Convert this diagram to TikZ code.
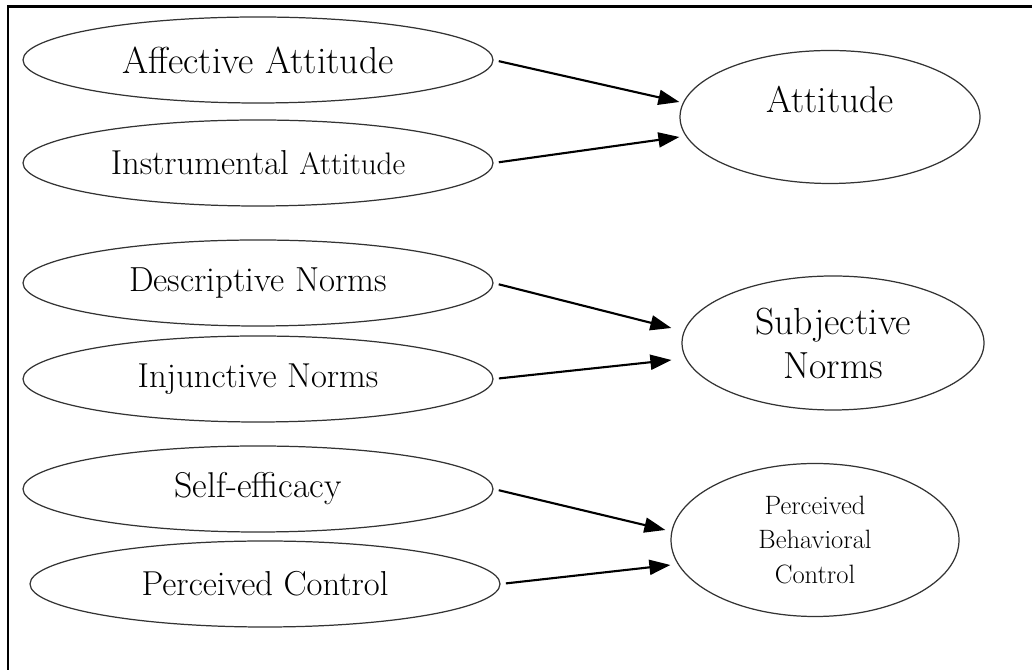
\documentclass[tikz,border=0pt]{standalone}
\usepackage{tikz}
\usetikzlibrary{shapes.geometric}
\usetikzlibrary{arrows.meta}

\begin{document}
\begin{tikzpicture}[
	oval/.style={ellipse, draw=black!80, line width=0.7pt, inner sep=0pt},
	small/.style={oval, minimum width=9.4cm, minimum height=1.72cm},
	link/.style={line width=1.2pt, shorten <=3pt, -{Triangle[length=0.42cm,width=0.3cm]}}]
	\useasboundingbox (0,0) rectangle (20.64,13.4);
	\draw[line width=1.7pt] (0.16,0) -- (0.16,13.26) -- (20.64,13.26);

	\node[small,font=\fontsize{21.4}{25}\selectfont] (aff) at (5.16,12.2) {Affective Attitude};
	\node[small] (ins) at (5.16,10.14) {\fontsize{19.7}{23}\selectfont Instrumental \fontsize{17.7}{21}\selectfont Attitude};
	\node[small,font=\fontsize{19.8}{23}\selectfont] (des) at (5.16,7.74) {Descriptive Norms};
	\node[small,font=\fontsize{19.7}{23}\selectfont] (inj) at (5.16,5.82) {Injunctive Norms};
	\node[small,font=\fontsize{20.4}{24}\selectfont] (sel) at (5.16,3.62) {Self-efficacy};
	\node[small,font=\fontsize{19.7}{23}\selectfont] (pco) at (5.3,1.72) {Perceived Control};

	\node[oval, minimum width=6.0cm, minimum height=2.66cm,
		label={[yshift=0.36cm,font=\fontsize{21.2}{25}\selectfont]center:Attitude}] (att) at (16.6,11.06) {};
	\node[oval, minimum width=6.04cm, minimum height=2.68cm, align=center,
		font=\fontsize{21.5}{25}\selectfont] (sub) at (16.66,6.54) {Subjective\\Norms};
	\node[oval, minimum width=5.76cm, minimum height=3.06cm, align=center,
		font=\fontsize{15.1}{19.4}\selectfont] (pbc) at (16.3,2.6) {Perceived\\Behavioral\\Control};

	\draw[link] (aff.east) -- ([yshift=0.3cm]att.west);
	\draw[link] (ins.east) -- ([yshift=-0.4cm]att.west);
	\draw[link] (des.east) -- ([xshift=-0.2cm,yshift=0.3cm]sub.west);
	\draw[link] (inj.east) -- ([xshift=-0.2cm,yshift=-0.34cm]sub.west);
	\draw[link] (sel.east) -- ([xshift=-0.1cm,yshift=0.2cm]pbc.west);
	\draw[link] (pco.east) -- ([yshift=-0.5cm]pbc.west);
\end{tikzpicture}
\end{document}
